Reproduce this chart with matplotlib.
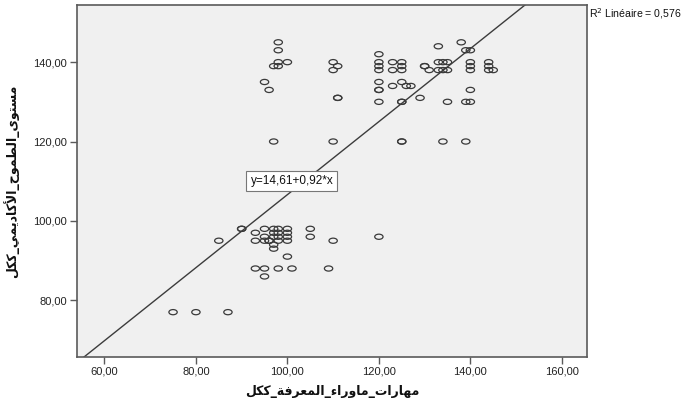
import matplotlib
matplotlib.use("Agg")
import matplotlib.pyplot as plt
import numpy as np
from matplotlib.path import Path
from matplotlib.transforms import Affine2D
from matplotlib.ticker import FuncFormatter

# ---------------- data ----------------
x_vals = [75, 80, 87,
          85, 90, 90, 93, 93, 93, 95, 95, 95, 95, 95, 96, 96,
          97, 97, 97, 97, 97, 98, 98, 98, 98, 98,
          100, 100, 100, 100, 100, 101, 105, 105, 109, 110, 120,
          98, 98, 98, 100, 97, 98, 95, 96, 97,
          110, 111, 110, 111, 111, 110,
          120, 120, 120, 120, 120, 120, 120, 120,
          123, 123, 123,
          125, 125, 125, 125, 125, 125, 125, 125,
          126, 127, 129, 130, 130, 131,
          133, 133, 133, 134, 134, 135, 135, 134, 135,
          138, 139, 140, 139, 140, 140, 139,
          140, 140, 140, 144, 144, 144, 145]
y_vals = [77, 77, 77,
          95, 98, 98, 97, 95, 88, 98, 96, 95, 88, 86, 95, 95,
          98, 97, 96, 94, 93, 98, 97, 96, 95, 88,
          98, 97, 96, 95, 91, 88, 98, 96, 88, 95, 96,
          145, 143, 140, 140, 139, 139, 135, 133, 120,
          140, 139, 138, 131, 131, 120,
          142, 140, 139, 138, 135, 133, 133, 130,
          140, 138, 134,
          140, 139, 138, 135, 130, 130, 120, 120,
          134, 134, 131, 139, 139, 138,
          144, 140, 138, 140, 138, 140, 138, 120, 130,
          145, 143, 143, 130, 130, 133, 120,
          140, 139, 138, 140, 139, 138, 138]
intercept = 14.61
slope = 0.92
r_squared = 0.576
x_ticks = [60, 80, 100, 120, 140, 160]
y_ticks = [80, 100, 120, 140]
x_label = "مهارات_ماوراء_المعرفة_ككل"
y_label = "مستوى_الطموح_الأكاديمي_ككل"

# ------------- minimal Arabic shaping (presentation forms + RTL order) -------------
FORMS = {  # isolated, final, initial, medial
    'ا': ('\uFE8D', '\uFE8E', None, None),
    'أ': ('\uFE83', '\uFE84', None, None),
    'ب': ('\uFE8F', '\uFE90', '\uFE91', '\uFE92'),
    'ة': ('\uFE93', '\uFE94', None, None),
    'ت': ('\uFE95', '\uFE96', '\uFE97', '\uFE98'),
    'ح': ('\uFEA1', '\uFEA2', '\uFEA3', '\uFEA4'),
    'د': ('\uFEA9', '\uFEAA', None, None),
    'ر': ('\uFEAD', '\uFEAE', None, None),
    'س': ('\uFEB1', '\uFEB2', '\uFEB3', '\uFEB4'),
    'ط': ('\uFEC1', '\uFEC2', '\uFEC3', '\uFEC4'),
    'ع': ('\uFEC9', '\uFECA', '\uFECB', '\uFECC'),
    'ف': ('\uFED1', '\uFED2', '\uFED3', '\uFED4'),
    'ق': ('\uFED5', '\uFED6', '\uFED7', '\uFED8'),
    'ك': ('\uFED9', '\uFEDA', '\uFEDB', '\uFEDC'),
    'ل': ('\uFEDD', '\uFEDE', '\uFEDF', '\uFEE0'),
    'م': ('\uFEE1', '\uFEE2', '\uFEE3', '\uFEE4'),
    'ه': ('\uFEE9', '\uFEEA', '\uFEEB', '\uFEEC'),
    'و': ('\uFEED', '\uFEEE', None, None),
    'ى': ('\uFEEF', '\uFEF0', None, None),
    'ي': ('\uFEF1', '\uFEF2', '\uFEF3', '\uFEF4'),
    'ء': ('\uFE80', None, None, None),
}
LAMALEF = {'ا': ('\uFEFB', '\uFEFC'), 'أ': ('\uFEF7', '\uFEF8')}


def joins_forward(c):
    return c in FORMS and FORMS[c][2] is not None


def joins_backward(c):
    return c in FORMS and FORMS[c][1] is not None


def shape(text):
    out = []
    i = 0
    n = len(text)
    while i < n:
        c = text[i]
        prev = text[i - 1] if i > 0 else ''
        connect_prev = joins_forward(prev) and joins_backward(c)
        if c == 'ل' and i + 1 < n and text[i + 1] in LAMALEF:
            iso, fin = LAMALEF[text[i + 1]]
            out.append(fin if connect_prev else iso)
            i += 2
            continue
        if c not in FORMS:
            out.append(c)
            i += 1
            continue
        nxt = text[i + 1] if i + 1 < n else ''
        connect_next = joins_forward(c) and joins_backward(nxt)
        iso, fin, ini, med = FORMS[c]
        if connect_prev and connect_next:
            g = med
        elif connect_prev:
            g = fin
        elif connect_next:
            g = ini
        else:
            g = iso
        out.append(g)
        i += 1
    return ''.join(out[::-1])


# ---------------- figure ----------------
plt.rcParams['font.family'] = ['Liberation Sans', 'DejaVu Sans']
fig = plt.figure(figsize=(6.88, 4.01), dpi=100)
fig.patch.set_facecolor('white')
ax = fig.add_axes([77 / 688, 1 - 357 / 401, 510 / 688, 352 / 401])
ax.set_facecolor('#F0F0F0')

xlim = (54.0, 165.5)
ylim = (65.7, 154.4)
ax.set_xlim(*xlim)
ax.set_ylim(*ylim)

# elliptical open marker like SPSS
ell = Path.unit_circle().transformed(Affine2D().scale(1.0, 0.62))
ax.scatter(x_vals, y_vals, marker=ell, s=36, facecolors='none',
           edgecolors='#3a3a3a', linewidths=0.9, zorder=3)

xx = np.array(xlim)
ax.plot(xx, intercept + slope * xx, color='#3c3c3c', lw=1.0, zorder=2)

for s in ax.spines.values():
    s.set_color('#5a5a5a')
    s.set_linewidth(1.2)

ax.set_xticks(x_ticks)
ax.set_yticks(y_ticks)
fmt = FuncFormatter(lambda v, p: f"{v:.2f}".replace('.', ','))
ax.xaxis.set_major_formatter(fmt)
ax.yaxis.set_major_formatter(fmt)
ax.tick_params(axis='both', direction='out', length=5, width=1.0,
               color='#5a5a5a', labelsize=8, labelcolor='#222222', pad=2)

ax.set_xlabel(shape(x_label), family=['DejaVu Sans'], fontsize=9,
              fontweight='bold', labelpad=6, color='#111111')
ax.set_ylabel(shape(y_label), family=['DejaVu Sans'], fontsize=9,
              fontweight='bold', labelpad=10, color='#111111')

ax.text(101.0, 110.0,
        f"y={intercept:.2f}+{slope:.2f}*x".replace('.', ','),
        ha='center', va='center', fontsize=8.5, color='#111111', zorder=4,
        bbox=dict(boxstyle='square,pad=0.35', fc='white', ec='#777777', lw=0.8))

fig.text(589 / 688, 1 - 14 / 401,
         f"R$^2$ Linéaire = {r_squared:.3f}".replace('.', ','),
         ha='left', va='center', fontsize=7.6, color='#111111')

fig.savefig('out.png', dpi=100)
